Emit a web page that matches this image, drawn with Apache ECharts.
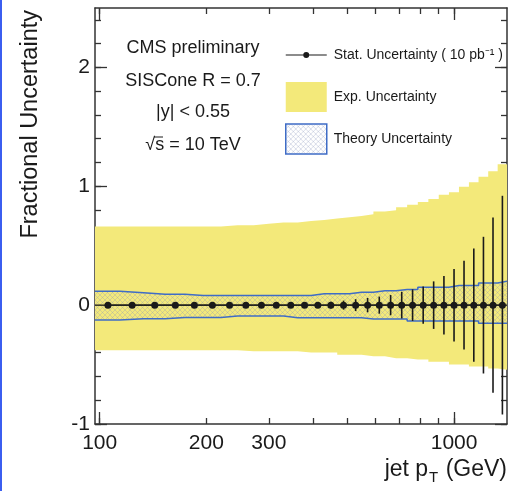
<!DOCTYPE html>
<html>
<head>
<meta charset="utf-8">
<script src="https://cdn.jsdelivr.net/npm/echarts@6/dist/echarts.min.js"></script>
<style>
html,body{margin:0;padding:0;background:#fff}
#chart{width:510px;height:491px}
</style>
</head>
<body>
<div id="chart"></div>
<script>
// bins in jet pT (GeV)
var binEdges = [97,114,133,153,174,196,220,245,272,300,330,362,395,430,468,507,548,592,638,686,737,790,846,905,967,1032,1101,1172,1248,1327,1410];
var binCenters = [105.5,123.5,143,163.5,185,208,232.5,258.5,286,315,346,378.5,412.5,449,487.5,527.5,570,615,662,711.5,763.5,818,875.5,936,999.5,1066.5,1136.5,1210,1287.5,1368.5];

// experimental uncertainty band (up / down)
var expUp = [0.661,0.661,0.661,0.661,0.661,0.661,0.673,0.673,0.684,0.695,0.695,0.707,0.717,0.728,0.74,0.75,0.765,0.787,0.798,0.823,0.845,0.868,0.893,0.929,0.949,0.996,1.033,1.08,1.127,1.186];
var expDown = [-0.379,-0.379,-0.379,-0.379,-0.379,-0.379,-0.379,-0.387,-0.387,-0.387,-0.387,-0.399,-0.399,-0.399,-0.418,-0.418,-0.43,-0.43,-0.446,-0.446,-0.457,-0.457,-0.477,-0.477,-0.499,-0.499,-0.516,-0.516,-0.533,-0.544];

// theory uncertainty band
var theoUp = [0.117,0.104,0.092,0.092,0.081,0.081,0.081,0.081,0.081,0.081,0.081,0.081,0.095,0.095,0.095,0.109,0.109,0.122,0.122,0.131,0.131,0.151,0.151,0.151,0.165,0.165,0.165,0.187,0.187,0.201];
var theoDown = [-0.125,-0.114,-0.114,-0.103,-0.103,-0.103,-0.092,-0.092,-0.092,-0.092,-0.106,-0.106,-0.106,-0.106,-0.106,-0.106,-0.117,-0.117,-0.117,-0.117,-0.134,-0.134,-0.134,-0.134,-0.134,-0.134,-0.134,-0.153,-0.153,-0.153];

// statistical uncertainty (10 pb-1)
var statErr = [0.004,0.005,0.006,0.007,0.008,0.009,0.01,0.012,0.014,0.016,0.018,0.021,0.024,0.028,0.038,0.05,0.06,0.072,0.085,0.112,0.133,0.157,0.2,0.246,0.305,0.373,0.476,0.575,0.737,0.92];

// ticks
var xTicks = [100,200,300,400,500,600,700,800,900,1000];
var xMajor = [100,1000];
var xLabels = [100,200,300,1000];
var yLabels = [-1,0,1,2];
var yMinor = [-1,-0.8,-0.6,-0.4,-0.2,0,0.2,0.4,0.6,0.8,1,1.2,1.4,1.6,1.8,2,2.2,2.4];

var FONT = 'Liberation Sans, Arial, Helvetica, sans-serif';
var YELLOW = '#f3e97a';
var BLUE = '#3f6cc6';
var INK = '#1a1a1a';

// crosshatch for the theory band
var hatch = document.createElement('canvas');
hatch.width = 5; hatch.height = 5;
var hc = hatch.getContext('2d');
hc.strokeStyle = 'rgba(140,150,190,0.32)';
hc.lineWidth = 1;
hc.beginPath();
hc.moveTo(0,0); hc.lineTo(5,5);
hc.moveTo(5,0); hc.lineTo(0,5);
hc.stroke();
var hatchFill = {image: hatch, repeat: 'repeat'};

// step outlines: one point per lower bin edge, plus the last upper edge
function stepLine(vals) {
	var pts = [];
	for (var i = 0; i < vals.length; i++) pts.push([binEdges[i], vals[i]]);
	pts.push([binEdges[binEdges.length-1], vals[vals.length-1]]);
	return pts;
}

var statRows = [], statPts = [];
for (var i = 0; i < binCenters.length; i++) {
	statRows.push([binCenters[i], binEdges[i], binEdges[i+1], statErr[i]]);
	statPts.push([binCenters[i], 0]);
}

function statItem(params, api) {
	var a = api.coord([api.value(1), 0]);
	var b = api.coord([api.value(2), 0]);
	var t = api.coord([api.value(0), api.value(3)]);
	var d = api.coord([api.value(0), -api.value(3)]);
	return {
		type: 'group',
		children: [
			{type: 'line', shape: {x1: a[0], y1: a[1], x2: b[0], y2: b[1]}, style: {stroke: INK, lineWidth: 1.3}},
			{type: 'line', shape: {x1: t[0], y1: t[1], x2: d[0], y2: d[1]}, style: {stroke: INK, lineWidth: 1.6}}
		]
	};
}

function band(name, vals, fill, lineColor, z) {
	return {
		name: name, type: 'line', z: z, step: 'end', symbol: 'none', showSymbol: false,
		lineStyle: lineColor ? {color: lineColor, width: 1.5} : {width: 0, opacity: 0},
		itemStyle: {color: lineColor || YELLOW},
		areaStyle: {color: fill, opacity: 1},
		data: stepLine(vals)
	};
}

function xAx(pos, ticks, len, labels) {
	return {
		type: 'log', logBase: 10, position: pos, min: 97, max: 1410,
		axisLine: {show: len < 10, onZero: false, lineStyle: {color: '#333', width: 1.5}},
		axisTick: {show: true, inside: true, length: len, customValues: ticks, lineStyle: {color: '#333', width: 1.3}},
		minorTick: {show: false},
		axisLabel: labels ? {customValues: labels, fontSize: 21, color: INK, fontFamily: FONT, margin: 9,
			formatter: function(v) { return String(Math.round(v)); }} : {show: false},
		splitLine: {show: false}
	};
}
function yAx(pos, ticks, len, labels) {
	return {
		type: 'value', position: pos, min: -1, max: 2.5,
		axisLine: {show: len < 10, onZero: false, lineStyle: {color: '#333', width: 1.5}},
		axisTick: {show: true, inside: true, length: len, customValues: ticks, lineStyle: {color: '#333', width: 1.3}},
		axisLabel: labels ? {customValues: labels, fontSize: 21, color: INK, fontFamily: FONT, margin: 5} : {show: false},
		splitLine: {show: false}
	};
}

var xAxes = [xAx('bottom', xTicks, 6, xLabels), xAx('bottom', xMajor, 12), xAx('top', xTicks, 6), xAx('top', xMajor, 12)];
xAxes[0].name = 'jet p{sub|T} (GeV)';
xAxes[0].nameLocation = 'end';
xAxes[0].nameGap = 0;
xAxes[0].nameTextStyle = {
	fontSize: 23, color: INK, fontFamily: FONT, align: 'right', verticalAlign: 'top', padding: [31, 0, 0, 0],
	rich: {sub: {fontSize: 15, color: INK, fontFamily: FONT, padding: [15, 1, 0, 1]}}
};
var yAxes = [yAx('left', yMinor, 6, yLabels), yAx('left', yLabels, 12), yAx('right', yMinor, 6), yAx('right', yLabels, 12)];
yAxes[0].name = 'Fractional Uncertainty';
yAxes[0].nameLocation = 'end';
yAxes[0].nameRotate = 90;
yAxes[0].nameGap = -2;
yAxes[0].nameTextStyle = {fontSize: 23.5, color: INK, fontFamily: FONT, align: 'right', verticalAlign: 'bottom', padding: [0, 0, 52, 0]};

var chart = echarts.init(document.getElementById('chart'));
var option = {
	animation: false,
	backgroundColor: '#fff',
	grid: {left: 95, right: 3, top: 8, bottom: 67, containLabel: false},
	xAxis: xAxes,
	yAxis: yAxes,
	legend: {
		orient: 'vertical', left: 285, top: 39, padding: 0,
		itemWidth: 41, itemHeight: 30, itemGap: 10,
		selectedMode: false,
		textStyle: {fontSize: 14, lineHeight: 32, color: INK, fontFamily: FONT, padding: [0, 0, 0, 2]},
		data: [
			{name: 'Stat. Uncertainty ( 10 pb\u207B\u00B9 )', icon: 'path://M0,14.5 L41,14.5 L41,15.6 L0,15.6 Z M20.5,12 A3,3 0 1,1 20.49,12 Z', itemStyle: {color: INK, borderWidth: 0}},
			{name: 'Exp. Uncertainty', icon: 'rect', itemStyle: {color: YELLOW, borderWidth: 0}},
			{name: 'Theory Uncertainty', icon: 'rect', itemStyle: {color: hatchFill, borderColor: BLUE, borderWidth: 1.5}}
		]
	},
	graphic: [
		{type: 'rect', left: 0, top: 0, shape: {width: 2, height: 491}, style: {fill: '#3b5ef0'}},
		{type: 'text', x: 193, y: 48, style: {text: 'CMS preliminary', fontSize: 18, fill: INK, fontFamily: FONT, align: 'center', verticalAlign: 'middle'}},
		{type: 'text', x: 193, y: 81, style: {text: 'SISCone R = 0.7', fontSize: 18, fill: INK, fontFamily: FONT, align: 'center', verticalAlign: 'middle'}},
		{type: 'text', x: 193, y: 112, style: {text: '|y| < 0.55', fontSize: 18, fill: INK, fontFamily: FONT, align: 'center', verticalAlign: 'middle'}},
		{type: 'text', x: 193, y: 145, style: {text: '\u221As = 10 TeV', fontSize: 18, fill: INK, fontFamily: FONT, align: 'center', verticalAlign: 'middle'}},
		{type: 'line', shape: {x1: 154, y1: 137, x2: 163, y2: 137}, style: {stroke: INK, lineWidth: 1}}
	],
	series: [
		band('Exp. Uncertainty', expUp, YELLOW, null, 1),
		band('Exp. Uncertainty', expDown, YELLOW, null, 1),
		band('Theory Uncertainty', theoUp, hatchFill, BLUE, 2),
		band('Theory Uncertainty', theoDown, hatchFill, BLUE, 2),
		{
			name: 'statBars', type: 'custom', z: 4,
			renderItem: statItem, encode: {x: 0, y: 3}, data: statRows
		},
		{
			name: 'Stat. Uncertainty ( 10 pb\u207B\u00B9 )', type: 'line', z: 5,
			symbol: 'circle', symbolSize: 7, itemStyle: {color: INK},
			lineStyle: {color: INK, width: 1.2}, data: statPts
		}
	]
};
chart.setOption(option);
</script>
</body>
</html>
